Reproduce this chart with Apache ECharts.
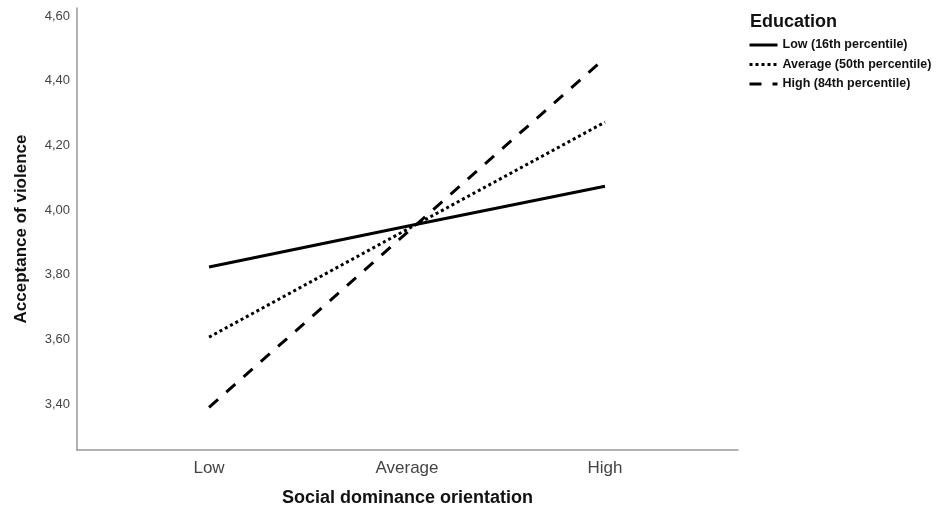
<!DOCTYPE html>
<html>
<head>
<meta charset="utf-8">
<script src="https://cdn.jsdelivr.net/npm/echarts@6/dist/echarts.min.js"></script>
<style>html,body{margin:0;padding:0;background:#fff;}#c{width:940px;height:511px;}</style>
</head>
<body>
<div id="c"></div>
<script>
var categories = ['Low', 'Average', 'High'];
var categoryPos = [0, 1, 2];
var seriesNames = ['Low (16th percentile)', 'Average (50th percentile)', 'High (84th percentile)'];
var lowEdu = [3.824, 3.95, 4.074];
var avgEdu = [3.607, 3.94, 4.272];
var highEdu = [3.39, 3.93, 4.47];
var yTicks = [3.4, 3.6, 3.8, 4.0, 4.2, 4.4, 4.6];

function pts(vals) { return vals.map(function (v, i) { return [categoryPos[i], v]; }); }

var chart = echarts.init(document.getElementById('c'), null, { renderer: 'canvas' });
var font = 'Liberation Sans, Arial, sans-serif';
chart.setOption({
  backgroundColor: '#fff',
  animation: false,
  title: {
    text: 'Education', left: 745, top: 8,
    textStyle: { fontFamily: font, fontSize: 18, fontWeight: 'bold', color: '#111' }
  },
  legend: {
    orient: 'vertical', left: 748, top: 38, padding: 0,
    itemWidth: 28, itemHeight: 14, itemGap: 5.5,
    data: seriesNames,
    itemStyle: { opacity: 0 },
    lineStyle: { width: 3 },
    textStyle: { fontFamily: font, fontSize: 12.5, fontWeight: 'bold', color: '#111', lineHeight: 14 }
  },
  grid: { left: 77, right: 202, top: 8, bottom: 61, containLabel: false, outerBoundsMode: 'none' },
  xAxis: {
    type: 'value', min: -0.667, max: 2.672,
    name: 'Social dominance orientation', nameLocation: 'middle', nameGap: 39,
    nameTextStyle: { fontFamily: font, fontSize: 18, fontWeight: 'bold', color: '#111' },
    axisLine: { show: true, onZero: false, lineStyle: { color: '#999', width: 1.5 } },
    axisTick: { show: false },
    splitLine: { show: false },
    axisLabel: {
      customValues: categoryPos, margin: 10,
      fontFamily: font, fontSize: 17, color: '#444',
      formatter: function (v) { var i = categoryPos.indexOf(Math.round(v)); return i >= 0 ? categories[i] : ''; }
    }
  },
  yAxis: {
    type: 'value', min: 3.258, max: 4.625,
    name: 'Acceptance of violence', nameLocation: 'middle', nameGap: 47,
    nameTextStyle: { fontFamily: font, fontSize: 17, fontWeight: 'bold', color: '#111' },
    axisLine: { show: true, onZero: false, lineStyle: { color: '#999', width: 1.5 } },
    axisTick: { show: false },
    splitLine: { show: false },
    axisLabel: {
      customValues: yTicks, margin: 7,
      fontFamily: font, fontSize: 13, color: '#444',
      formatter: function (v) { return v.toFixed(2).replace('.', ','); }
    }
  },
  series: [
    { name: seriesNames[0], type: 'line', data: pts(lowEdu), symbol: 'none', color: '#000',
      lineStyle: { color: '#000', width: 3, type: 'solid' } },
    { name: seriesNames[1], type: 'line', data: pts(avgEdu), symbol: 'none', color: '#000',
      lineStyle: { color: '#000', width: 3, type: [3, 3], cap: 'butt' } },
    { name: seriesNames[2], type: 'line', data: pts(highEdu), symbol: 'none', color: '#000',
      lineStyle: { color: '#000', width: 3, type: [12, 11], cap: 'butt' } }
  ]
});
</script>
</body>
</html>
